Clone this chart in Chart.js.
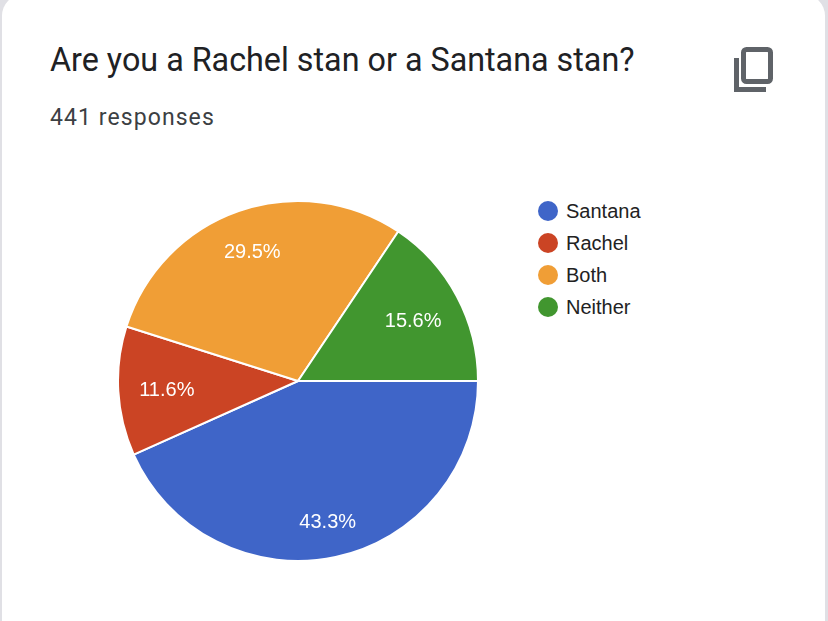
<!DOCTYPE html>
<html>
<head>
<meta charset="utf-8">
<title>Are you a Rachel stan or a Santana stan?</title>
<script src="https://cdn.jsdelivr.net/npm/chart.js@4"></script>
<style>
  html, body { margin: 0; padding: 0; background: #fff; }
  body { width: 828px; height: 621px; overflow: hidden; position: relative; background: #e0e0e5; }
  .cartao { position: absolute; left: 2px; top: -6px; width: 823px; height: 660px; background: #fff; border-radius: 22px; }
  .titulo { position: absolute; left: 50px; top: 41px; font: 400 32.3px Roboto, sans-serif; color: #202124; white-space: nowrap; }
  .respostas { position: absolute; left: 50px; top: 104px; font: 400 23px Roboto, sans-serif; letter-spacing: 1.08px; color: #3c4043; white-space: nowrap; }
  .icone { position: absolute; left: 730px; top: 42px; }
  .grafico { position: absolute; left: 117px; top: 200px; width: 362px; height: 362px; }
  .legenda { position: absolute; left: 538px; top: 195px; font: 20px "Liberation Sans", Arial, sans-serif; color: #222; }
  .legenda div { height: 32px; line-height: 32px; white-space: nowrap; }
  .legenda i { display: inline-block; width: 20px; height: 20px; border-radius: 50%; margin-right: 8px; vertical-align: -3px; }
</style>
</head>
<body>
<div class="cartao"></div>
<div class="titulo">Are you a Rachel stan or a Santana stan?</div>
<div class="respostas">441 responses</div>
<svg class="icone" width="48" height="54" viewBox="0 0 48 54" fill="none" stroke="#5f6368" stroke-width="5">
  <rect x="13.5" y="7.5" width="27" height="32" rx="3"/>
  <path d="M6.5 16 V47.5 H36"/>
</svg>
<div class="grafico"><canvas id="graficoPizza"></canvas></div>
<div class="legenda" id="legenda"></div>

<script>
const categorias = ['Santana', 'Rachel', 'Both', 'Neither'];
const valores = [43.3, 11.6, 29.5, 15.6];
const rotulos = ['43.3%', '11.6%', '29.5%', '15.6%'];
const cores = ['#3f65c8', '#cb4424', '#f09e36', '#41962f'];
// distancia do rotulo ao centro, como fracao do raio
const distRotulo = [0.79, 0.73, 0.77, 0.725];

const rotulosPlugin = {
  id: 'rotulosPizza',
  afterDatasetsDraw(chart) {
    const ctx = chart.ctx;
    ctx.save();
    ctx.font = '20px "Liberation Sans", Arial, sans-serif';
    ctx.fillStyle = '#fff';
    ctx.textAlign = 'center';
    ctx.textBaseline = 'middle';
    chart.getDatasetMeta(0).data.forEach((arc, i) => {
      const meio = (arc.startAngle + arc.endAngle) / 2;
      const r = arc.outerRadius * distRotulo[i];
      ctx.fillText(rotulos[i], arc.x + Math.cos(meio) * r, arc.y + Math.sin(meio) * r + 2);
    });
    ctx.restore();
  }
};

new Chart(document.getElementById('graficoPizza'), {
  type: 'pie',
  data: {
    labels: categorias,
    datasets: [{
      data: valores,
      backgroundColor: cores,
      borderColor: '#fff',
      borderWidth: 2
    }]
  },
  options: {
    responsive: true,
    maintainAspectRatio: false,
    animation: false,
    rotation: 90,
    plugins: {
      legend: { display: false },
      tooltip: { enabled: false }
    }
  },
  plugins: [rotulosPlugin]
});

document.getElementById('legenda').innerHTML = categorias
  .map((c, i) => `<div><i style="background:${cores[i]}"></i>${c}</div>`)
  .join('');
</script>
</body>
</html>
